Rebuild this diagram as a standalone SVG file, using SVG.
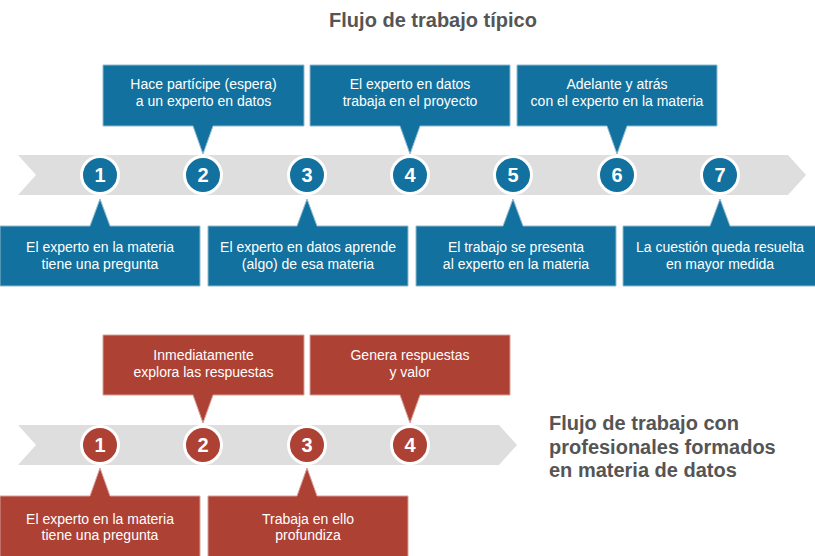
<svg xmlns="http://www.w3.org/2000/svg" width="815" height="556" viewBox="0 0 815 556">
<style>
.title{font-family:"Liberation Sans",Arial,sans-serif;font-weight:bold;font-size:20px;fill:#555555}
.band{fill:#dedede}
.blue{fill:#12719e;stroke:#8fbad0;stroke-width:1}
.red{fill:#ad4134;stroke:#d8a099;stroke-width:1}
.cb{fill:#12719e;stroke:#ffffff;stroke-width:3}
.cr{fill:#ad4134;stroke:#ffffff;stroke-width:3}
.lbl{font-family:"Liberation Sans",Arial,sans-serif;font-size:14px;fill:#ffffff;text-anchor:middle}
.num{font-family:"Liberation Sans",Arial,sans-serif;font-weight:bold;font-size:20px;fill:#ffffff;text-anchor:middle}
</style>
<rect width="815" height="556" fill="#ffffff"/>
<text class="title" x="433" y="27" text-anchor="middle">Flujo de trabajo típico</text>

<g id="band1"><polygon class="band" points="18,155 788,155 806,175 788,195 18,195 36,175"/></g>
<g id="band2"><polygon class="band" points="18,425 499,425 517,445 499,465 18,465 36,445"/></g>
<g id="connectors"/>

<!-- top workflow callouts above -->
<g id="t-up-2"><path class="blue" d="M103,65 H304 V126 H213 L203,154 L193,126 H103 Z"/>
<text class="lbl" x="203.5" y="89">Hace partícipe (espera)</text><text class="lbl" x="203.5" y="106">a un experto en datos</text></g>
<g id="t-up-4"><path class="blue" d="M310,65 H510 V126 H420 L410,154 L400,126 H310 Z"/>
<text class="lbl" x="410" y="89">El experto en datos</text><text class="lbl" x="410" y="106">trabaja en el proyecto</text></g>
<g id="t-up-6"><path class="blue" d="M517,65 H717 V126 H627 L617,154 L607,126 H517 Z"/>
<text class="lbl" x="617" y="89">Adelante y atrás</text><text class="lbl" x="617" y="106">con el experto en la materia</text></g>

<!-- top workflow callouts below -->
<g id="t-dn-1"><path class="blue" d="M0,226 H90 L100,199 L110,226 H200 V286 H0 Z"/>
<text class="lbl" x="100" y="252">El experto en la materia</text><text class="lbl" x="100" y="269">tiene una pregunta</text></g>
<g id="t-dn-3"><path class="blue" d="M208,226 H297 L307,199 L317,226 H408 V286 H208 Z"/>
<text class="lbl" x="308" y="252">El experto en datos aprende</text><text class="lbl" x="308" y="269">(algo) de esa materia</text></g>
<g id="t-dn-5"><path class="blue" d="M416,226 H503 L513,199 L523,226 H616 V286 H416 Z"/>
<text class="lbl" x="516" y="252">El trabajo se presenta</text><text class="lbl" x="516" y="269">al experto en la materia</text></g>
<g id="t-dn-7"><path class="blue" d="M623,226 H710 L720,199 L730,226 H823 V286 H623 Z"/>
<text class="lbl" x="720" y="252">La cuestión queda resuelta</text><text class="lbl" x="720" y="269">en mayor medida</text></g>

<!-- top circles -->
<g id="t-c1"><circle class="cb" cx="100" cy="175" r="18.5"/><text class="num" x="100" y="182">1</text></g>
<g id="t-c2"><circle class="cb" cx="203" cy="175" r="18.5"/><text class="num" x="203" y="182">2</text></g>
<g id="t-c3"><circle class="cb" cx="307" cy="175" r="18.5"/><text class="num" x="307" y="182">3</text></g>
<g id="t-c4"><circle class="cb" cx="410" cy="175" r="18.5"/><text class="num" x="410" y="182">4</text></g>
<g id="t-c5"><circle class="cb" cx="513" cy="175" r="18.5"/><text class="num" x="513" y="182">5</text></g>
<g id="t-c6"><circle class="cb" cx="617" cy="175" r="18.5"/><text class="num" x="617" y="182">6</text></g>
<g id="t-c7"><circle class="cb" cx="720" cy="175" r="18.5"/><text class="num" x="720" y="182">7</text></g>

<!-- second workflow -->
<g id="d-up-2"><path class="red" d="M103,335 H304 V395 H213 L203,423 L193,395 H103 Z"/>
<text class="lbl" x="203.5" y="360">Inmediatamente</text><text class="lbl" x="203.5" y="377">explora las respuestas</text></g>
<g id="d-up-4"><path class="red" d="M310,335 H510 V395 H420 L410,423 L400,395 H310 Z"/>
<text class="lbl" x="410" y="360">Genera respuestas</text><text class="lbl" x="410" y="377">y valor</text></g>
<g id="d-dn-1"><path class="red" d="M0,496 H90 L100,468 L110,496 H200 V560 H0 Z"/>
<text class="lbl" x="100" y="524">El experto en la materia</text><text class="lbl" x="100" y="540">tiene una pregunta</text></g>
<g id="d-dn-3"><path class="red" d="M208,496 H297 L307,468 L317,496 H408 V560 H208 Z"/>
<text class="lbl" x="308" y="524">Trabaja en ello</text><text class="lbl" x="308" y="540">profundiza</text></g>

<g id="d-c1"><circle class="cr" cx="100" cy="445" r="18.5"/><text class="num" x="100" y="452">1</text></g>
<g id="d-c2"><circle class="cr" cx="203" cy="445" r="18.5"/><text class="num" x="203" y="452">2</text></g>
<g id="d-c3"><circle class="cr" cx="307" cy="445" r="18.5"/><text class="num" x="307" y="452">3</text></g>
<g id="d-c4"><circle class="cr" cx="410" cy="445" r="18.5"/><text class="num" x="410" y="452">4</text></g>

<g id="title2"><text class="title" x="549" y="430">Flujo de trabajo con</text>
<text class="title" x="549" y="454">profesionales formados</text>
<text class="title" x="549" y="477">en materia de datos</text></g>
</svg>
